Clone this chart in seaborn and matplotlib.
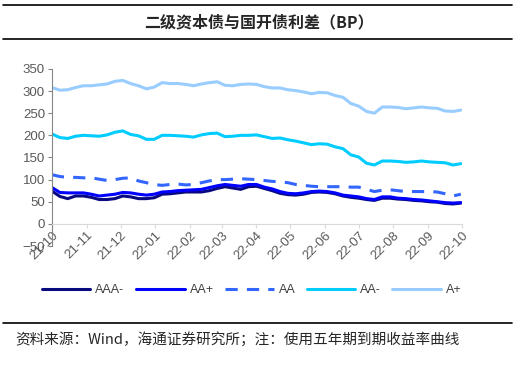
import seaborn as sns
import pandas as pd
import matplotlib.pyplot as plt
import matplotlib.dates as mdates
from matplotlib.lines import Line2D

# weekly readings (Fridays) of the spread, BP
dates = pd.date_range("2021-10-01", periods=53, freq="W-FRI")

aaa_minus = [74, 62, 57, 63, 63, 60, 55, 55, 57, 63, 61, 57, 57, 59, 67, 68, 70, 72,
             72, 72, 75, 80, 84, 81, 78, 84, 85, 80, 75, 69, 66, 65, 67, 71, 72, 71,
             68, 63, 60, 58, 55, 53, 58, 58, 56, 55, 53, 52, 50, 49, 46, 45, 47]
aa_plus = [82, 71, 70, 70, 70, 67, 63, 65, 67, 71, 70, 67, 65, 67, 72, 73, 75, 76,
           77, 78, 82, 86, 89, 87, 85, 89, 89, 83, 79, 73, 69, 68, 70, 73, 74, 73,
           70, 65, 63, 61, 57, 55, 61, 61, 58, 57, 55, 54, 52, 50, 48, 47, 48]
aa = [111, 107, 105, 105, 104, 104, 101, 98, 100, 103, 104, 97, 93, 89, 87, 89, 90, 88,
      89, 93, 97, 100, 100, 101, 102, 101, 100, 98, 96, 95, 93, 89, 87, 85, 84, 84,
      84, 84, 83, 83, 78, 73, 76, 77, 75, 73, 73, 73, 73, 72, 68, 63, 67]
aa_minus = [203, 195, 193, 198, 200, 199, 198, 201, 207, 210, 202, 199, 191, 191, 200, 200, 199, 198,
            196, 201, 204, 205, 197, 198, 200, 200, 201, 197, 193, 194, 190, 187, 183, 179, 181, 180,
            174, 170, 156, 151, 137, 133, 142, 142, 141, 139, 140, 142, 140, 139, 138, 133, 136]
a_plus = [308, 302, 303, 308, 312, 312, 314, 316, 322, 324, 317, 312, 305, 309, 319, 317, 317, 315,
          312, 316, 319, 321, 313, 312, 315, 316, 315, 310, 307, 307, 303, 301, 298, 294, 297, 296,
          290, 286, 272, 266, 254, 250, 264, 264, 263, 260, 262, 264, 262, 261, 255, 254, 257]

names = ["AAA-", "AA+", "AA", "AA-", "A+"]
series = [aaa_minus, aa_plus, aa, aa_minus, a_plus]
colors = ["#0a0a80", "#0000ff", "#3366ff", "#00ccff", "#99ccff"]

sns.set_style("white")
plt.rcParams['font.family'] = ['Liberation Sans', 'Noto Sans CJK SC']

fig = plt.figure(figsize=(5.17, 3.72), dpi=100)
ax = fig.add_axes([0.1006, 0.3387, 0.793, 0.476])

for name, vals, c in zip(names, series, colors):
    l = sns.lineplot(x=dates, y=vals, ax=ax, color=c, linewidth=2.2, label=name)
    if name == "AA":
        l.lines[-1].set_dashes((4, 3))

ax.set_ylim(-50, 350)
ax.set_yticks(range(-50, 351, 50))
ax.set_xlim(pd.Timestamp("2021-10-01"), pd.Timestamp("2022-10-01"))
ax.xaxis.set_major_locator(mdates.MonthLocator())
ax.xaxis.set_major_formatter(mdates.DateFormatter("%y-%m"))
ax.set_xlabel("")
ax.set_ylabel("")

for s in ["top", "right"]:
    ax.spines[s].set_visible(False)
ax.spines["bottom"].set_position(("data", 0))
ax.spines["bottom"].set_color("#d9d9d9")
ax.spines["left"].set_color("#868686")
ax.tick_params(axis="y", left=True, length=3, color="#868686", labelsize=9.5,
               labelcolor="#595959", pad=2)
ax.tick_params(axis="x", bottom=True, length=3, color="#d9d9d9", labelsize=9.5,
               labelcolor="#595959", pad=1)
for t in ax.get_xticklabels():
    t.set_rotation(45)
    t.set_ha("right")
    t.set_rotation_mode("anchor")

ax.get_legend().remove()
h, lab = ax.get_legend_handles_labels()
fig.legend(h, lab, loc="center", bbox_to_anchor=(0.487, 0.22), ncol=5, frameon=False,
           handlelength=3.9, handletextpad=0.4, columnspacing=0.9, fontsize=9,
           labelcolor="#404040")

fig.text(0.5, 0.94, "二级资本债与国开债利差（BP）", ha="center", va="center",
         fontsize=11.5, fontweight="bold", family=["Noto Sans CJK SC", "DejaVu Sans"])
fig.text(0.029, 0.088, "资料来源：Wind，海通证券研究所；注：使用五年期到期收益率曲线",
         ha="left", va="center", fontsize=10.5, family=["Noto Sans CJK SC", "DejaVu Sans"])

for yy in [1 - 5 / 372, 1 - 39 / 372, 1 - 323 / 372]:
    fig.add_artist(Line2D([3 / 517, 512 / 517], [yy, yy], color="black", linewidth=1.2))

plt.savefig("out.png", dpi=100)
